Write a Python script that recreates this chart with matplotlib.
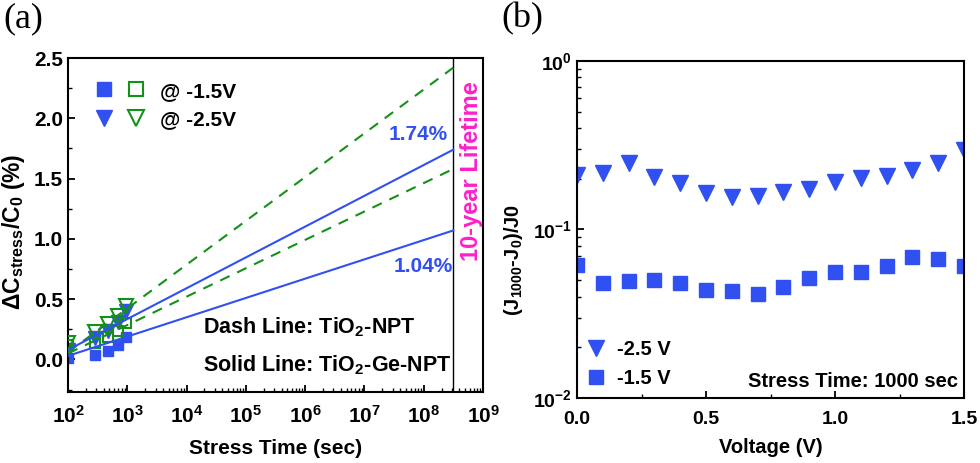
import matplotlib
matplotlib.use("Agg")
import matplotlib.pyplot as plt
from matplotlib.lines import Line2D
from matplotlib.legend_handler import HandlerTuple
from matplotlib.ticker import MultipleLocator, LogLocator

plt.rcParams['font.family'] = ['Liberation Sans', 'DejaVu Sans']
plt.rcParams['font.weight'] = 'bold'
plt.rcParams['mathtext.fontset'] = 'custom'
plt.rcParams['mathtext.rm'] = 'Liberation Sans:bold'
plt.rcParams['mathtext.it'] = 'Liberation Sans:bold'
plt.rcParams['mathtext.bf'] = 'Liberation Sans:bold'
plt.rcParams['mathtext.default'] = 'rm'

BLUE = '#3150f2'
GREEN = '#15901a'
PINK = '#ff1fc8'

# (a) stress time data
t_stress = [100, 280, 470, 700, 950]
ge_15 = [0.01, 0.04, 0.07, 0.12, 0.19]
ge_25 = [0.08, 0.18, 0.24, 0.31, 0.40]
npt_15 = [0.12, 0.14, 0.19, 0.24, 0.30]
npt_25 = [0.14, 0.23, 0.29, 0.36, 0.44]

# fitted lines, from 100 s to 10 years
t_fit = [100, 3.15e8]
fit_ge_25 = [0.08, 1.74]
fit_ge_15 = [0.03, 1.07]
fit_npt_25 = [0.06, 2.42]
fit_npt_15 = [0.05, 1.58]
ten_year = 3.15e8

# (b) voltage data
voltage = [0.0, 0.1, 0.2, 0.3, 0.4, 0.5, 0.6, 0.7, 0.8, 0.9, 1.0, 1.1, 1.2, 1.3, 1.4, 1.5]
j_25 = [0.210, 0.216, 0.247, 0.206, 0.190, 0.164, 0.155, 0.158, 0.168, 0.174,
        0.192, 0.201, 0.209, 0.224, 0.247, 0.296]
j_15 = [0.0616, 0.0483, 0.0494, 0.0500, 0.0480, 0.0437, 0.0431, 0.0414, 0.0457,
        0.0515, 0.0560, 0.0560, 0.0607, 0.0690, 0.0667, 0.0607]

fig = plt.figure(figsize=(9.8, 4.63), dpi=100)
ax1 = fig.add_axes([0.0694, 0.1533, 0.4235, 0.7214])
ax2 = fig.add_axes([0.5888, 0.1404, 0.3949, 0.7279])

for ax in (ax1, ax2):
    for s in ax.spines.values():
        s.set_linewidth(1.5)
    ax.tick_params(which='both', direction='in', top=False, right=False)
    ax.tick_params(which='major', length=5, width=1.3)
    ax.tick_params(which='minor', length=3, width=1.0)

# ---- panel (a)
ax1.plot(t_stress, ge_15, 's', ms=7, color=BLUE, zorder=2)
ax1.plot(t_stress, ge_25, 'v', ms=10, color=BLUE, zorder=2)
ax1.plot(t_stress, npt_15, 's', ms=7, mfc='none', mec=GREEN, mew=1.5, zorder=3)
ax1.plot(t_stress, npt_25, 'v', ms=10, mfc='none', mec=GREEN, mew=1.5, zorder=3)
ax1.plot(t_fit, fit_npt_25, '--', color=GREEN, lw=1.5, dashes=(5, 4), zorder=4)
ax1.plot(t_fit, fit_npt_15, '--', color=GREEN, lw=1.5, dashes=(5, 4), zorder=4)
ax1.plot(t_fit, fit_ge_25, '-', color=BLUE, lw=1.5, zorder=4)
ax1.plot(t_fit, fit_ge_15, '-', color=BLUE, lw=1.5, zorder=4)
ax1.axvline(ten_year, color='black', lw=1.0)

ax1.set_xscale('log')
ax1.set_xlim(100, 1e9)
ax1.set_ylim(-0.27, 2.5)
ax1.xaxis.set_major_locator(LogLocator(base=10, numticks=12))
ax1.xaxis.set_minor_locator(LogLocator(base=10, subs=range(2, 10), numticks=12))
ax1.yaxis.set_major_locator(MultipleLocator(0.5))
ax1.yaxis.set_minor_locator(MultipleLocator(0.25))
ax1.tick_params(axis='both', which='major', labelsize=15)
ax1.tick_params(axis='x', pad=9.5)
ax1.set_xlabel('Stress Time (sec)', fontsize=15, fontweight='bold')
ax1.set_ylabel('ΔC$_{stress}$/C$_0$ (%)', fontsize=16.5, fontweight='bold')
ax1.yaxis.set_label_coords(-0.098, 0.48)
ax1.xaxis.set_label_coords(0.5, -0.14)

ax1.text(ten_year / 1.25, fit_ge_25[1] + 0.05, '1.74%', color=BLUE, fontsize=15,
         ha='right', va='bottom', fontweight='bold')
ax1.text(ten_year, fit_ge_15[1] - 0.22, '1.04%', color=BLUE, fontsize=15,
         ha='right', va='top', fontweight='bold')
ax1.text(0.972, 0.66, '10-year Lifetime', color=PINK, fontsize=17, rotation=90,
         ha='center', va='center', transform=ax1.transAxes, fontweight='bold')
ax1.text(0.325, 0.195, 'Dash Line: TiO$_2$-NPT', fontsize=15.5, fontweight='bold',
         transform=ax1.transAxes, va='center')
ax1.text(0.325, 0.08, 'Solid Line: TiO$_2$-Ge-NPT', fontsize=15.5, fontweight='bold',
         transform=ax1.transAxes, va='center')

h_sq = (Line2D([], [], ls='none', marker='s', ms=10, color=BLUE),
        Line2D([], [], ls='none', marker='s', ms=10, mfc='none', mec=GREEN, mew=1.5))
h_tri = (Line2D([], [], ls='none', marker='v', ms=12, color=BLUE),
         Line2D([], [], ls='none', marker='v', ms=12, mfc='none', mec=GREEN, mew=1.5))
ax1.legend([h_sq, h_tri], ['@ -1.5V', '@ -2.5V'],
           handler_map={tuple: HandlerTuple(ndivide=None, pad=0.3)},
           loc='upper left', bbox_to_anchor=(0.01, 0.985), frameon=False,
           handlelength=2.8, handletextpad=0.5, labelspacing=0.45,
           prop={'weight': 'bold', 'size': 15})

# ---- panel (b)
ax2.plot(voltage, j_25, 'v', ms=11, color=BLUE, label='-2.5 V')
ax2.plot(voltage, j_15, 's', ms=9.5, color=BLUE, label='-1.5 V')
ax2.set_yscale('log')
ax2.set_xlim(0, 1.5)
ax2.set_ylim(1e-2, 1)
ax2.xaxis.set_major_locator(MultipleLocator(0.5))
ax2.xaxis.set_minor_locator(MultipleLocator(0.25))
ax2.tick_params(axis='both', which='major', labelsize=14)
ax2.tick_params(axis='x', pad=9.5)
ax2.set_xlabel('Voltage (V)', fontsize=14.5, fontweight='bold')
ax2.set_ylabel('(J$_{1000}$-J$_0$)/J0', fontsize=14.5, fontweight='bold')
ax2.yaxis.set_label_coords(-0.134, 0.41)
ax2.xaxis.set_label_coords(0.5, -0.119)
ax2.legend(loc='lower left', frameon=False, handlelength=0.9, handletextpad=0.6,
           labelspacing=0.5, borderaxespad=0.2, borderpad=0.3,
           prop={'weight': 'bold', 'size': 14.5})
ax2.text(0.985, 0.033, 'Stress Time: 1000 sec', fontsize=14.5, fontweight='bold',
         ha='right', va='baseline', transform=ax2.transAxes)

fig.text(0.003, 0.995, '(a)', family='Liberation Serif', fontweight='normal',
         fontsize=26, va='top', ha='left')
fig.text(0.512, 0.995, '(b)', family='Liberation Serif', fontweight='normal',
         fontsize=26, va='top', ha='left')

fig.savefig('out.png', dpi=100)
